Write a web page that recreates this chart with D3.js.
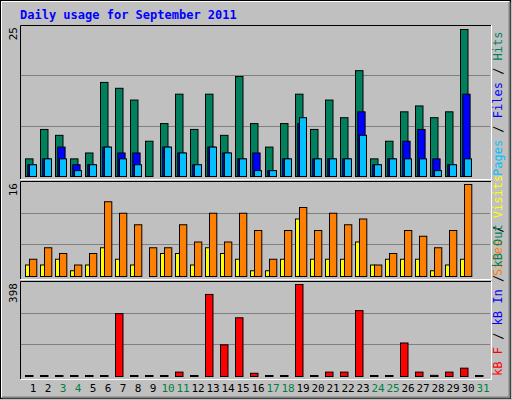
<!DOCTYPE html>
<html><head><meta charset="utf-8">
<script src="https://cdn.jsdelivr.net/npm/d3@7"></script>
<style>body{margin:0;background:#fff}svg{display:block}text{font-family:"DejaVu Sans Mono",monospace}</style>
</head><body><svg id="c" width="512" height="400"></svg>
<script>
const days = d3.range(1,32);
const weekend = [3,4,10,11,17,18,24,25,31];
const hits  = [3,8,7,3,4,16,15,13,6,9,14,8,14,7,17,9,5,9,14,8,13,10,18,3,6,11,12,10,11,25,0];
const files = [2,3,5,2,2,5,4,4,0,5,4,2,5,4,3,4,1,3,9,3,3,3,11,2,3,6,8,3,2,14,0];
const pages = [2,3,3,1,2,5,3,2,0,5,4,2,5,4,3,1,1,3,10,3,3,3,7,2,3,3,3,1,2,3,0];
const visits= [2,2,3,1,2,5,3,2,0,4,4,2,5,4,3,1,1,3,10,3,3,3,6,2,3,3,3,1,2,3,0];
const sites = [3,5,4,2,4,13,11,9,5,5,9,6,11,6,11,8,3,8,12,8,11,9,10,2,4,8,7,5,8,16,0];
const kbF   = [0,0,3,0,0,0,272,3,0,0,19,0,355,137,254,14,0,0,398,0,19,19,285,0,0,145,19,5,19,36,0];
const maxes = {hits:25, visits:16, kb:398};

const svg = d3.select("#c");
svg.append("rect").attr("x",0).attr("y",0).attr("width",512).attr("height",400).attr("fill","#c0c0c0");
svg.append("rect").attr("x",0.5).attr("y",0.5).attr("width",510).attr("height",398).attr("fill","none").attr("stroke","#000");
svg.append("path").attr("d","M1.5,397 V1.5 H509").attr("stroke","#fff").attr("fill","none");
svg.append("path").attr("d","M2,397.5 H509.5 V2").attr("stroke","#808080").attr("stroke-width",2).attr("fill","none");

svg.append("text").attr("x",20).attr("y",19).attr("fill","#0000ff").attr("font-size",12).attr("font-weight","bold").text("Daily usage for September 2011");

const x = d3.scaleLinear().domain([1,31]).range([25,475]);
const panels = [
 {top:25,bot:179,base:176,max:maxes.hits,label:"25",ytop:29,
  series:[{v:hits,c:"#00805c",o:0,w:7.5},{v:files,c:"#0000ff",o:2.3,w:7.3},{v:pages,c:"#00c0ff",o:4,w:7}],
  leg:[["Pages","#00c0ff"],[" / ","#000"],["Files","#0000ff"],[" / ","#000"],["Hits","#00805c"]]},
 {top:181,bot:279,base:276,max:maxes.visits,label:"16",ytop:184,
  series:[{v:visits,c:"#ffff00",o:0,w:4},{v:sites,c:"#ff8000",o:4,w:7.3}],
  leg:[["Sites","#ff8000"],[" / ","#000"],["Visits","#ffff00"]]},
 {top:281,bot:379,base:376,max:maxes.kb,label:"398",ytop:284,
  series:[{v:kbF,c:"#ff0000",o:0,w:7.5,min:1}],
  leg:[["kB F","#ff0000"],[" / ","#000"],["kB In","#0000ff"],[" / ","#000"],["kB Out","#00805c"]]}
];
panels.forEach((p,i)=>{
  const y2 = d3.scaleLinear().domain([0,p.max]).range([p.base, p.ytop]);
  svg.append("path").attr("d",`M20.5,${p.bot} V${p.top+0.5} H491`).attr("stroke","#000").attr("fill","none");
  svg.append("path").attr("d",`M20.5,${p.bot+0.5} H491.5 V${p.top}`).attr("stroke","#fff").attr("fill","none");
  const h = p.base - p.top;
  [1/3,2/3].forEach(f=>svg.append("line").attr("x1",21).attr("x2",490).attr("y1",Math.round(p.base-h*f)+0.5).attr("y2",Math.round(p.base-h*f)+0.5).attr("stroke","#808080"));
  p.series.forEach(s=>{
    svg.append("g").selectAll("rect").data(days.filter((d,j)=>s.v[j]>0||s.min)).join("rect")
      .attr("x",d=>x(d)+s.o+0.5).attr("width",s.w)
      .attr("y",d=>Math.min(y2(s.v[d-1]),p.base-(s.min||0))+0.5)
      .attr("height",d=>Math.max(p.base-y2(s.v[d-1]),s.min||0))
      .attr("fill",s.c).attr("stroke","#000");
  });
  svg.append("text").attr("transform",`translate(17,${p.top+2}) rotate(-90)`).attr("text-anchor","end").attr("font-size",11).attr("fill","#000").text(p.label);
  const t = svg.append("text").attr("transform",`translate(502,${p.base}) rotate(-90)`).attr("text-anchor","start").attr("font-size",12);
  p.leg.forEach(l=>t.append("tspan").attr("fill",l[1]).text(l[0]));
});
svg.append("g").selectAll("text").data(days).join("text")
  .attr("x",d=>x(d)+8).attr("y",392).attr("text-anchor","middle").attr("font-size",11)
  .attr("fill",d=>weekend.includes(d)?"#008040":"#000").text(d=>d);
</script></body></html>
